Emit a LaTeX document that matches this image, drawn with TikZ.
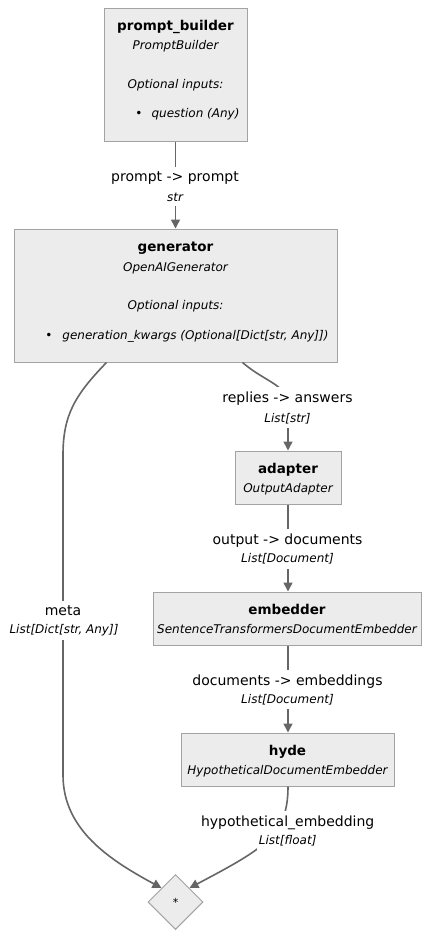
\documentclass[tikz,border=0pt]{standalone}
\usepackage{fontspec}
\setmainfont{DejaVu Sans}
\usetikzlibrary{arrows.meta,shapes.geometric}
\definecolor{boxfill}{HTML}{ECECEC}
\definecolor{boxline}{HTML}{A3A3A3}
\definecolor{edgecol}{HTML}{666666}
\begin{document}
\begin{tikzpicture}[x=1pt,y=-1pt,
  box/.style={draw=boxline,fill=boxfill,line width=1pt,inner sep=0pt},
  dia/.style={diamond,draw=boxline,fill=boxfill,line width=1pt,inner sep=0pt,minimum width=55pt,minimum height=55pt,font=\fontsize{11}{13}\selectfont},
  title/.style={font=\fontsize{13.5}{16}\selectfont\bfseries,anchor=base,inner sep=0pt},
  sub/.style={font=\fontsize{12}{14}\selectfont\itshape,anchor=base,inner sep=0pt},
  lab/.style={font=\fontsize{14}{16}\selectfont,anchor=base,fill=white,inner xsep=1.5pt,inner ysep=4.5pt},
  typ/.style={font=\fontsize{12}{14}\selectfont\itshape,anchor=base,fill=white,inner xsep=1.5pt,inner ysep=4.5pt},
  conn/.style={draw=edgecol,line width=1.6pt,-{Triangle[length=9pt,width=9pt]}}]
\useasboundingbox (0,0) rectangle (430,937);

% boxes
\node[box,minimum width=143pt,minimum height=133pt] (pb) at (175.5,74.5) {};
\node[box,minimum width=323pt,minimum height=133pt] (gen) at (175.5,295.5) {};
\node[box,minimum width=106pt,minimum height=53pt] (ad) at (288,477.5) {};
\node[box,minimum width=268pt,minimum height=53pt] (emb) at (287,618.5) {};
\node[box,minimum width=213pt,minimum height=53pt] (hy) at (287.5,759.5) {};
\node[dia] (jn) at (175.5,902) {*};

% box texts
\node[title] (pbt) at (175.5,30.5) {prompt\_builder};
\node[sub] (pbs) at (175.5,49.5) {PromptBuilder};
\node[sub] (pbo) at (175.5,88) {Optional inputs:};
\node[sub] (pbb) at (139,117.7) {\upshape•};
\node[sub] (pbq) at (195.5,117.7) {question (Any)};

\node[title] (gent) at (175.5,251.5) {generator};
\node[sub] (gens) at (175.5,271.5) {OpenAIGenerator};
\node[sub] (geno) at (175.5,309.5) {Optional inputs:};
\node[sub] (genb) at (49,339.5) {\upshape•};
\node[sub] (genq) at (195.5,339.5) {generation\_kwargs (Optional[Dict[str, Any]])};

\node[title] (adt) at (288,473.5) {adapter};
\node[sub] (ads) at (288,492.5) {OutputAdapter};

\node[title] (embt) at (287,614.5) {embedder};
\node[sub] (embs) at (287,633) {SentenceTransformersDocumentEmbedder};

\node[title] (hyt) at (287.5,755.5) {hyde};
\node[sub] (hys) at (287.5,774) {HypotheticalDocumentEmbedder};

% connectors
\draw[conn] (pb.south) -- (gen.north);
\draw[conn] ([xshift=229pt]gen.south west) .. controls (265,382) and (288,385) .. (288,405) -- (ad.north);
\draw[conn] (ad.south) -- (emb.north -| ad.south);
\draw[conn] (emb.south -| ad.south) -- (hy.north -| ad.south);
\draw[conn] ([xshift=93pt]gen.south west) .. controls (75,395) and (63,415) .. (63,455) -- (63,775) .. controls (63,830) and (110,860) .. (jn.north west);
\draw[conn] (hy.south -| ad.south) .. controls (288,835) and (265,848) .. (jn.north east);

% connector labels
\node[lab] (l1) at (175,181.5) {prompt -> prompt};
\node[typ] (t1) at (175,201) {str};
\node[lab] (l2) at (287.5,402.5) {replies -> answers};
\node[typ] (t2) at (287.5,422) {List[str]};
\node[lab] (l3) at (287.5,544.5) {output -> documents};
\node[typ] (t3) at (287.5,562.5) {List[Document]};
\node[lab] (l4) at (287.5,685) {documents -> embeddings};
\node[typ] (t4) at (287.5,703) {List[Document]};
\node[lab] (l5) at (287.7,826) {hypothetical\_embedding};
\node[typ] (t5) at (287.7,844) {List[float]};
\node[lab] (l6) at (63,615) {meta};
\node[typ] (t6) at (64,633) {List[Dict[str, Any]]};
\end{tikzpicture}
\end{document}
